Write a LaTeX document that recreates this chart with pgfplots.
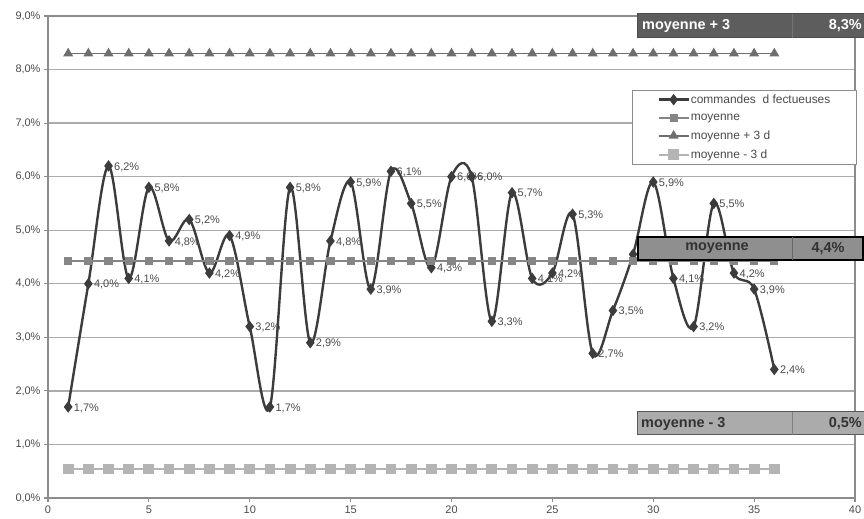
\documentclass[border=0pt]{standalone}
\usepackage{pgfplots}
\pgfplotsset{compat=1.18}
\usepackage{fontspec}
\setmainfont{Liberation Sans}
\definecolor{datac}{HTML}{3C3C3C}
\definecolor{meanc}{HTML}{858585}
\definecolor{upc}{HTML}{6E6E6E}
\definecolor{lowc}{HTML}{B4B4B4}
\definecolor{gridc}{HTML}{ABABAB}
\definecolor{axc}{HTML}{8C8C8C}
\definecolor{txtc}{HTML}{4A4A4A}
\pgfplotstableread{
x y
1 1.7
2 4.0
3 6.2
4 4.1
5 5.8
6 4.8
7 5.2
8 4.2
9 4.9
10 3.2
11 1.7
12 5.8
13 2.9
14 4.8
15 5.9
16 3.9
17 6.1
18 5.5
19 4.3
20 6.0
21 6.0
22 3.3
23 5.7
24 4.1
25 4.2
26 5.3
27 2.7
28 3.5
29 4.55
30 5.9
31 4.1
32 3.2
33 5.5
34 4.2
35 3.9
36 2.4
}\datatab
\begin{document}
\begin{tikzpicture}[x=1bp,y=1bp]
\useasboundingbox (0,0) rectangle (864,519);
\begin{axis}[
  at={(48bp,21bp)}, anchor=south west,
  scale only axis, width=807bp, height=482bp,
  xmin=0, xmax=40, ymin=0, ymax=9,
  xtick={0,5,...,40}, ytick={0,1,...,9},
  tick pos=left, tick align=outside, major tick length=4bp,
  axis line style={axc, line width=1.6bp},
  every tick/.style={axc, line width=1.2bp},
  ymajorgrids, grid style={gridc, line width=1.3bp},
  /pgf/number format/assume math mode=true,
  ticklabel style={font=\fontsize{11}{13}\selectfont, text=txtc},
  yticklabel={\pgfmathprintnumber[fixed,fixed zerofill,precision=1,use comma]{\tick}\%},
  xticklabel={\pgfmathprintnumber{\tick}},
  legend style={at={(0.7237,0.846)}, anchor=north west, draw=axc, line width=0.8bp, fill=white,
     font=\fontsize{12}{13}\selectfont, text=txtc, row sep=5bp, inner xsep=25bp, inner ysep=2bp,
     legend cell align=left, nodes={inner xsep=1bp}},
  legend image code/.code={\draw[mark repeat=2,mark phase=2] plot coordinates {(0bp,0bp) (15bp,0bp) (30bp,0bp)};},
  clip=false,
]
\addplot[datac, line width=2.4bp, smooth, tension=0.55, mark=diamond*, mark size=3.8bp,
  mark options={solid, fill=datac, draw=datac},
  nodes near coords={\pgfmathprintnumber[fixed,fixed zerofill,precision=1,use comma]{\pgfplotspointmeta}\%},
  every node near coord/.style={anchor=west, font=\fontsize{11}{13}\selectfont, text=txtc, xshift=3.5bp, yshift=-1bp, inner sep=1bp}]
  table[x=x,y=y]{\datatab};
\addlegendentry{commandes\ \ d fectueuses}
\addplot[meanc, line width=1.6bp, mark=square*, mark size=3.3bp, mark options={fill=meanc, draw=meanc}]
  coordinates {(1,4.42)(2,4.42)(3,4.42)(4,4.42)(5,4.42)(6,4.42)(7,4.42)(8,4.42)(9,4.42)(10,4.42)(11,4.42)(12,4.42)(13,4.42)(14,4.42)(15,4.42)(16,4.42)(17,4.42)(18,4.42)(19,4.42)(20,4.42)(21,4.42)(22,4.42)(23,4.42)(24,4.42)(25,4.42)(26,4.42)(27,4.42)(28,4.42)(29,4.42)(30,4.42)(31,4.42)(32,4.42)(33,4.42)(34,4.42)(35,4.42)(36,4.42)};
\addlegendentry{moyenne}
\addplot[upc, line width=1.6bp, mark=triangle*, mark size=4.2bp, mark options={fill=upc, draw=upc}]
  coordinates {(1,8.30)(2,8.30)(3,8.30)(4,8.30)(5,8.30)(6,8.30)(7,8.30)(8,8.30)(9,8.30)(10,8.30)(11,8.30)(12,8.30)(13,8.30)(14,8.30)(15,8.30)(16,8.30)(17,8.30)(18,8.30)(19,8.30)(20,8.30)(21,8.30)(22,8.30)(23,8.30)(24,8.30)(25,8.30)(26,8.30)(27,8.30)(28,8.30)(29,8.30)(30,8.30)(31,8.30)(32,8.30)(33,8.30)(34,8.30)(35,8.30)(36,8.30)};
\addlegendentry{moyenne + 3 d}
\addplot[lowc, line width=1.6bp, mark=square*, mark size=4.6bp, mark options={fill=lowc, draw=lowc}]
  coordinates {(1,0.54)(2,0.54)(3,0.54)(4,0.54)(5,0.54)(6,0.54)(7,0.54)(8,0.54)(9,0.54)(10,0.54)(11,0.54)(12,0.54)(13,0.54)(14,0.54)(15,0.54)(16,0.54)(17,0.54)(18,0.54)(19,0.54)(20,0.54)(21,0.54)(22,0.54)(23,0.54)(24,0.54)(25,0.54)(26,0.54)(27,0.54)(28,0.54)(29,0.54)(30,0.54)(31,0.54)(32,0.54)(33,0.54)(34,0.54)(35,0.54)(36,0.54)};
\addlegendentry{moyenne - 3 d}
\end{axis}
% annotation boxes
\filldraw[fill=upc!85!black, draw=black!70, line width=1bp] (637,481) rectangle (864,505);
\draw[black!55, line width=0.8bp] (792,481) -- (792,505);
\node[anchor=west, text=white, font=\fontsize{14.5}{16}\selectfont\bfseries, inner sep=0] at (642,493) {moyenne + 3};
\node[anchor=east, text=white, font=\fontsize{14.5}{16}\selectfont\bfseries, inner sep=0] at (862,493) {8,3\%};
\filldraw[fill=black!44, draw=black, line width=2.2bp] (638,259) rectangle (863,282);
\draw[black!60, line width=0.8bp] (792,259) -- (792,282);
\node[text=black!80, font=\fontsize{14.5}{16}\selectfont\bfseries, inner sep=0] at (717,270.5) {moyenne};
\node[text=black!80, font=\fontsize{14.5}{16}\selectfont\bfseries, inner sep=0] at (828,270.5) {4,4\%};
\filldraw[fill=lowc!95!black, draw=black!65, line width=1bp] (637,84) rectangle (864,107);
\draw[black!50, line width=0.8bp] (792,84) -- (792,107);
\node[anchor=west, text=black!80, font=\fontsize{14.5}{16}\selectfont\bfseries, inner sep=0] at (641,95.5) {moyenne - 3};
\node[anchor=east, text=black!80, font=\fontsize{14.5}{16}\selectfont\bfseries, inner sep=0] at (862,95.5) {0,5\%};
\end{tikzpicture}
\end{document}
